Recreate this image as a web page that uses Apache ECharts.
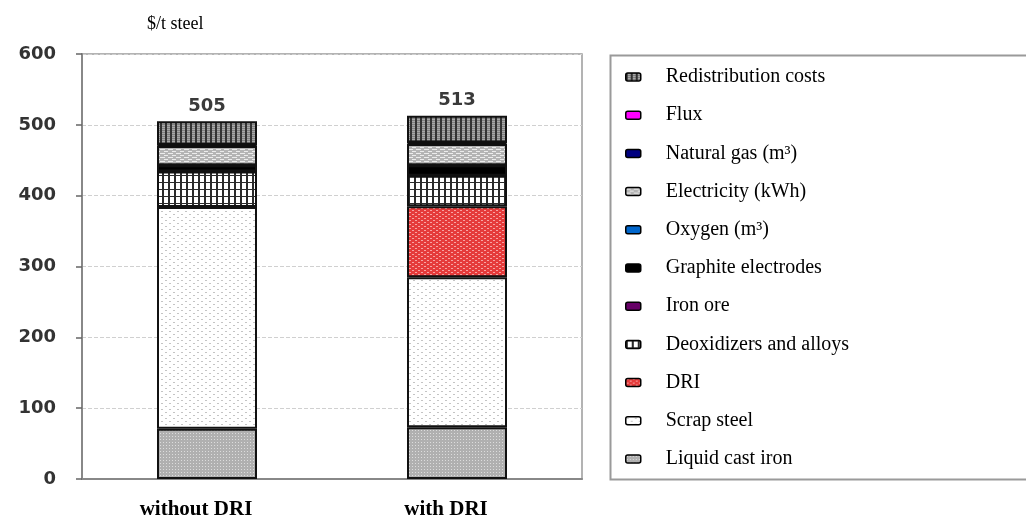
<!DOCTYPE html>
<html>
<head>
<meta charset="utf-8">
<script src="https://cdn.jsdelivr.net/npm/echarts@6/dist/echarts.min.js"></script>
<style>
  html, body { margin: 0; padding: 0; background: #fff; }
  #chart { width: 1026px; height: 518px; }
</style>
</head>
<body>
<div id="chart"></div>
<script>
// Steel production cost breakdown, $/t steel
const categories = ['without DRI', 'with DRI'];
const yTicks = [0, 100, 200, 300, 400, 500, 600];

const liquidCastIron = [71, 73];
const scrapSteel     = [313, 212];
const dri            = [0, 100];
const deoxidizers    = [50, 43];
const ironOre        = [0, 0];
const graphite       = [9, 15];
const oxygen         = [0, 0];
const electricity    = [27, 30];
const naturalGas     = [2, 2];
const flux           = [0, 0];
const redistribution = [33, 38];

// small repeating fills for the hatched segments
function pattern(w, h, draw) {
  const c = document.createElement('canvas');
  c.width = w; c.height = h;
  draw(c.getContext('2d'));
  return { image: c, repeat: 'repeat' };
}

const fillLiquid = pattern(3, 3, g => {
  g.fillStyle = '#b0b0b0'; g.fillRect(0, 0, 3, 3);
  g.fillStyle = '#dcdcdc'; g.fillRect(1, 1, 1, 1);
});
const fillScrap = pattern(8, 6, g => {
  g.fillStyle = '#ffffff'; g.fillRect(0, 0, 8, 6);
  g.fillStyle = '#c4c4c4';
  g.fillRect(1, 1, 2, 1);
  g.fillRect(5, 4, 2, 1);
});
const fillDri = pattern(6, 4, g => {
  g.fillStyle = '#e53b3b'; g.fillRect(0, 0, 6, 4);
  g.fillStyle = '#f7a3a3';
  g.fillRect(1, 0, 2, 1);
  g.fillRect(4, 2, 2, 1);
});
const fillDeox = pattern(6, 7, g => {
  g.fillStyle = '#ffffff'; g.fillRect(0, 0, 6, 7);
  g.fillStyle = '#2a2a2a';
  g.fillRect(0, 0, 2, 7);
  g.fillRect(0, 0, 6, 1);
});
const fillElec = pattern(8, 4, g => {
  g.fillStyle = '#b4b4b4'; g.fillRect(0, 0, 8, 4);
  g.fillStyle = '#ececec';
  g.fillRect(0, 1, 5, 1);
  g.fillRect(4, 3, 4, 1);
});
const fillRedist = pattern(5, 2, g => {
  g.fillStyle = '#a8a8a8'; g.fillRect(0, 0, 5, 2);
  g.fillStyle = '#333333'; g.fillRect(0, 0, 2, 2);
  g.fillStyle = '#808080'; g.fillRect(2, 0, 3, 1);
});

const seriesDefs = [
  { name: 'Liquid cast iron',       data: liquidCastIron, color: fillLiquid },
  { name: 'Scrap steel',            data: scrapSteel,     color: fillScrap },
  { name: 'DRI',                    data: dri,            color: fillDri },
  { name: 'Deoxidizers and alloys', data: deoxidizers,    color: fillDeox },
  { name: 'Iron ore',               data: ironOre,        color: '#660066' },
  { name: 'Graphite electrodes',    data: graphite,       color: '#000000' },
  { name: 'Oxygen (m³)',            data: oxygen,         color: '#0066cc' },
  { name: 'Electricity (kWh)',      data: electricity,    color: fillElec },
  { name: 'Natural gas (m³)',       data: naturalGas,     color: '#000080' },
  { name: 'Flux',                   data: flux,           color: '#ff00ff' },
  { name: 'Redistribution costs',   data: redistribution, color: fillRedist }
];

const totals = categories.map((_, i) => seriesDefs.reduce((s, d) => s + d.data[i], 0));

const series = seriesDefs.map((d, k) => {
  const s = {
    name: d.name,
    type: 'bar',
    stack: 'cost',
    barWidth: '40%',
    data: d.data,
    itemStyle: { color: d.color, borderColor: '#111', borderWidth: 2 },
    emphasis: { disabled: true }
  };
  if (k === seriesDefs.length - 1) {
    s.label = {
      show: true,
      position: 'top',
      distance: 6,
      formatter: p => String(totals[p.dataIndex]),
      fontFamily: 'DejaVu Sans',
      fontWeight: 'bold',
      fontSize: 18,
      color: '#3a3a3a'
    };
  }
  return s;
});

const chart = echarts.init(document.getElementById('chart'), null, { renderer: 'canvas' });
chart.setOption({
  animation: false,
  backgroundColor: '#fff',
  grid: {
    left: 82, right: 444, top: 54, bottom: 39,
    outerBoundsMode: 'none',
    containLabel: false,
    show: true, borderColor: '#9a9a9a', borderWidth: 1.5
  },
  graphic: [
    {
      type: 'text', left: 147, top: 15,
      style: { text: '$/t steel', font: '18px "Liberation Serif"', fill: '#000' }
    },
    {
      type: 'rect', left: 608, top: 53,
      shape: { width: 440, height: 424 },
      style: { fill: 'none', stroke: '#9a9a9a', lineWidth: 2 }
    }
  ],
  legend: {
    orient: 'vertical',
    left: 625, top: 67,
    padding: 0,
    itemWidth: 15, itemHeight: 8,
    itemGap: 18.2,
    icon: 'roundRect',
    itemStyle: { borderColor: '#000', borderWidth: 1.5 },
    textStyle: {
      fontFamily: 'Liberation Serif', fontSize: 20, color: '#000',
      lineHeight: 20, padding: [0, 0, 0, 20]
    },
    data: seriesDefs.map(d => d.name).reverse(),
    selectedMode: false
  },
  xAxis: {
    type: 'category',
    data: categories,
    axisLine: { lineStyle: { color: '#888', width: 2 } },
    axisTick: { show: false },
    axisLabel: {
      margin: 20,
      fontFamily: 'Liberation Serif', fontWeight: 'bold', fontSize: 21, color: '#000',
      padding: [0, 22, 0, 0]
    }
  },
  yAxis: {
    type: 'value',
    min: yTicks[0], max: yTicks[yTicks.length - 1], interval: 100,
    axisLine: { show: true, lineStyle: { color: '#888', width: 2 } },
    axisTick: { show: true, length: 6, lineStyle: { color: '#666', width: 1.5 } },
    axisLabel: {
      margin: 26,
      fontFamily: 'DejaVu Sans', fontWeight: 'bold', fontSize: 18, color: '#333'
    },
    splitLine: { show: true, lineStyle: { color: '#d0d0d0', type: [4, 2], width: 1 } }
  },
  series: series
});
</script>
</body>
</html>
